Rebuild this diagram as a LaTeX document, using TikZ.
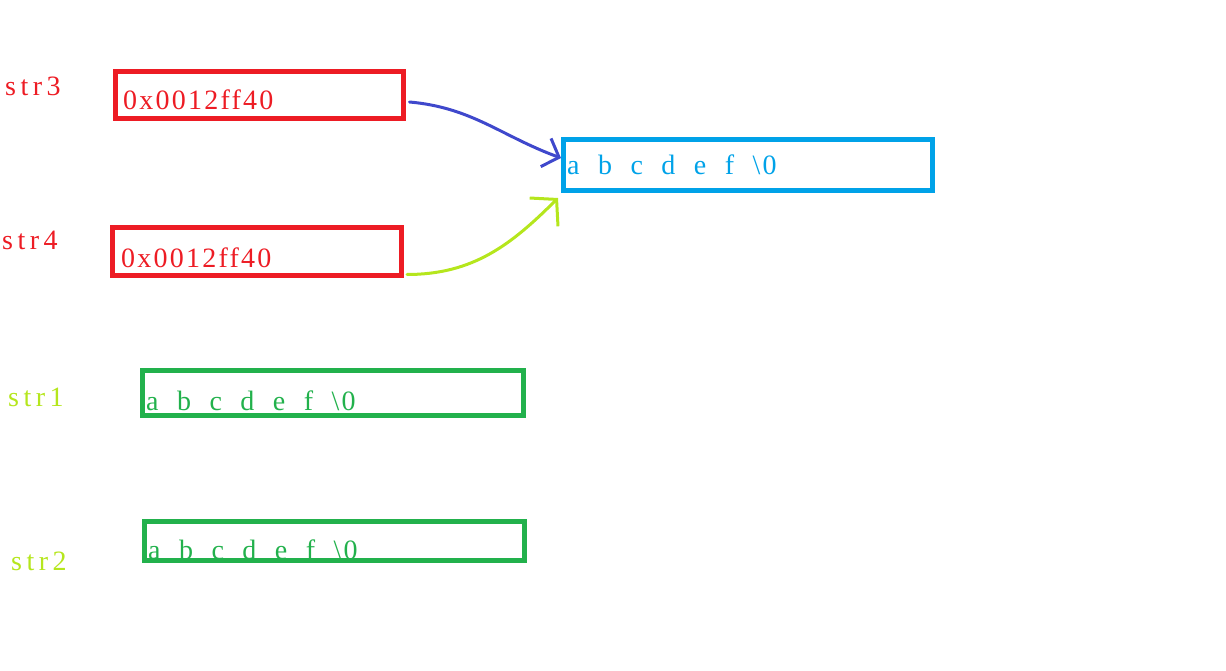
\documentclass[tikz,border=0pt]{standalone}
\usepackage{fontspec}
\setmainfont{Liberation Serif}[LetterSpace=8]
\newfontfamily\cellfont{Liberation Serif}[LetterSpace=8,WordSpace=2.0]
\newfontfamily\lblfont{Liberation Serif}[LetterSpace=16]
\usetikzlibrary{arrows.meta}
\definecolor{ptrred}{RGB}{237,28,36}
\definecolor{bufblue}{RGB}{0,162,232}
\definecolor{arrgreen}{RGB}{34,177,76}
\definecolor{limegreen}{RGB}{181,230,29}
\definecolor{inkblue}{RGB}{63,72,204}

\begin{document}
\begin{tikzpicture}[x=1pt,y=-1pt,
  cell/.style={draw,line width=5pt,inner sep=0pt},
  txt/.style={anchor=base west,inner sep=0pt,font=\fontsize{28}{30}\selectfont},
  abc/.style={txt,font=\cellfont\fontsize{28}{30}\selectfont},
  lbl/.style={txt,font=\lblfont\fontsize{28}{30}\selectfont},
  link/.style={line width=3pt,line cap=round}]
\useasboundingbox (0,0) rectangle (1226,671);

% pointers
\node[cell,ptrred,minimum width=288pt,minimum height=47pt] (ptr3) at (259,95.5) {};
\node[cell,ptrred,minimum width=289pt,minimum height=47.5pt] (ptr4) at (257,251.25) {};
\node[lbl,ptrred] (lbl3) at (5,96) {str3};
\node[lbl,ptrred] (lbl4) at (2,250) {str4};
\node[txt,ptrred] (hex3) at (123,110) {0x0012ff40};
\node[txt,ptrred] (hex4) at (121,267) {0x0012ff40};

% constant string
\node[cell,bufblue,minimum width=369pt,minimum height=51pt] (buf) at (748,165) {};
\node[abc,bufblue] (bufval) at (567,175) {a b c d e f \textbackslash0};

% arrays
\node[cell,arrgreen,minimum width=381pt,minimum height=45pt] (arr1) at (333,393) {};
\node[cell,arrgreen,minimum width=380pt,minimum height=39pt] (arr2) at (334.5,541) {};
\node[lbl,limegreen] (lbl1) at (8,406) {str1};
\node[lbl,limegreen] (lbl2) at (11,570) {str2};
\node[abc,arrgreen] (arr1val) at (146,410) {a b c d e f \textbackslash0};
\node[abc,arrgreen] (arr2val) at (148,559) {a b c d e f \textbackslash0};

\draw[link,inkblue,-{Straight Barb[length=14pt,width=30pt]}]
  ([xshift=4pt,yshift=-6.5pt]ptr3.east) to[out=-5,in=160] ([yshift=7pt]buf.west);
\draw[link,limegreen,-{Straight Barb[length=18pt,width=40pt]}]
  ([xshift=3pt,yshift=3pt]ptr4.south east) to[out=0,in=225] ([xshift=-3pt,yshift=-5pt]buf.south west);
\end{tikzpicture}
\end{document}
